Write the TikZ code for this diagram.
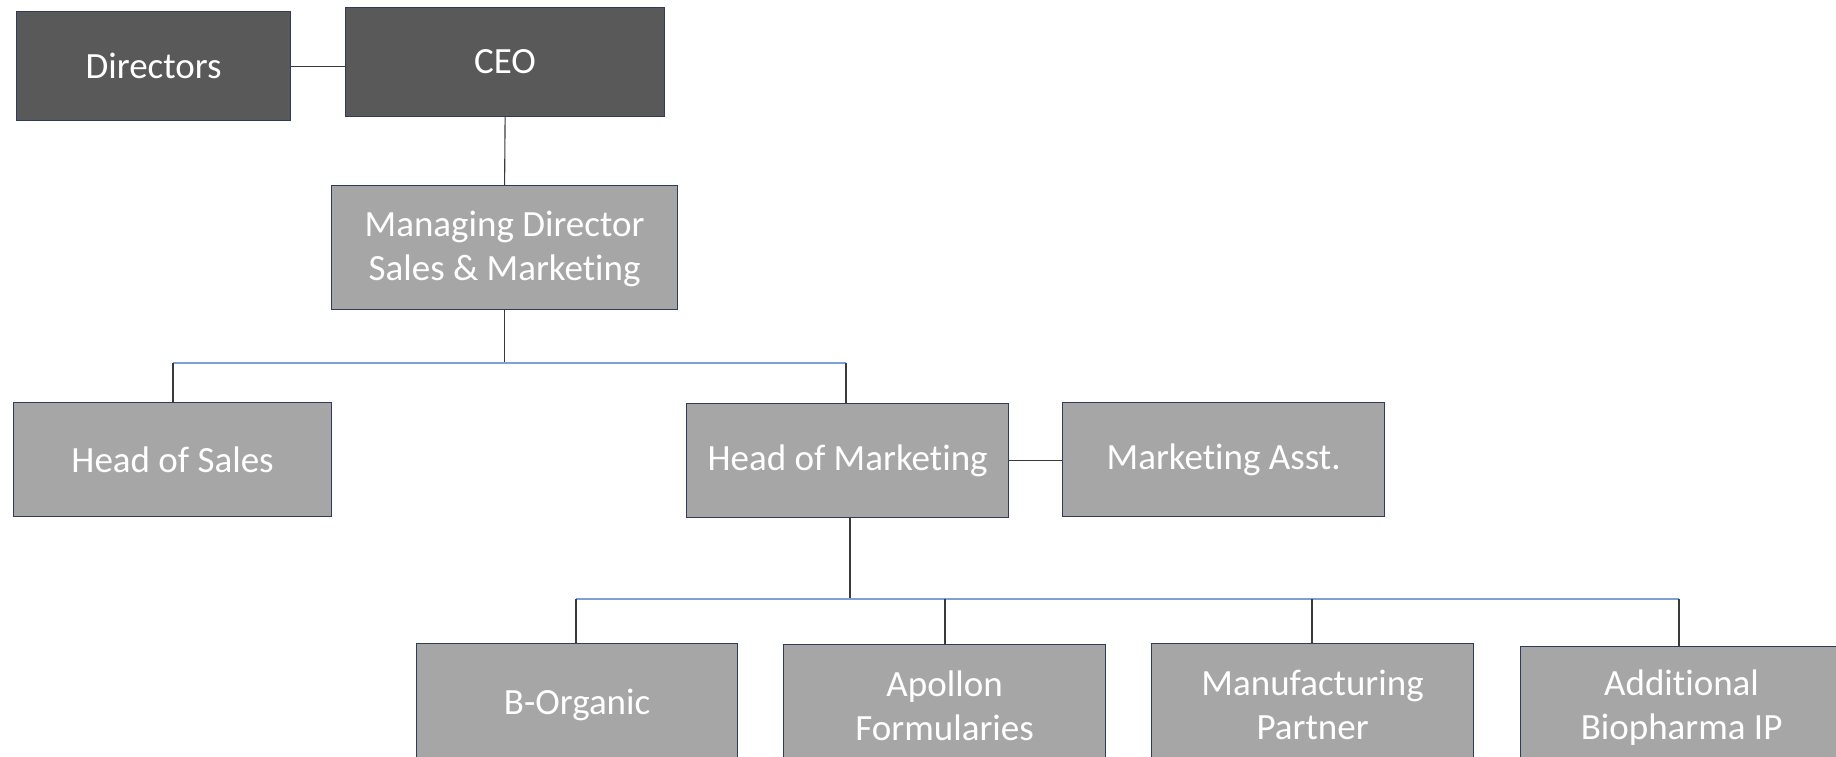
\documentclass[tikz,border=0pt]{standalone}
\usepackage{fontspec}
\setmainfont{Carlito}[Ligatures=NoCommon]
\definecolor{darkbox}{HTML}{595959}
\definecolor{lightbox}{HTML}{A6A6A6}
\definecolor{boxline}{HTML}{2F3B5C}
\definecolor{busline}{HTML}{7F9FD8}
\definecolor{linkline}{HTML}{3A3A3A}
\begin{document}
\begin{tikzpicture}[x=1pt,y=-1pt,
  box/.style={draw=boxline,line width=1.2pt,text=white,align=center,font=\fontsize{37}{44}\selectfont,inner sep=0pt,anchor=north west},
  darkb/.style={box,fill=darkbox},
  lightb/.style={box,fill=lightbox},
  link/.style={draw=linkline,line width=1.1pt},
  bus/.style={draw=busline,line width=1.5pt}]
\useasboundingbox (0,0) rectangle (1836,757);
\node[darkb,minimum width=274pt,minimum height=109pt] (dir) at (16,11) {Directors};
\node[darkb,minimum width=319pt,minimum height=109pt] (ceo) at (345,7) {CEO};
\node[lightb,minimum width=346pt,minimum height=124pt,text depth=4pt] (md) at (331,185) {Managing Director\\Sales \& Marketing};
\node[lightb,minimum width=318pt,minimum height=114pt] (hos) at (13,402) {Head of Sales};
\node[lightb,minimum width=322pt,minimum height=114pt] (hom) at (686,403) {Head of Marketing};
\node[lightb,minimum width=322pt,minimum height=114pt] (ma) at (1062,402) {Marketing Asst.};
\node[lightb,minimum width=321pt,minimum height=122pt] (bo) at (416,643) {B-Organic};
\node[lightb,minimum width=322pt,minimum height=122pt] (ap) at (783,644) {Apollon\\Formularies};
\node[lightb,minimum width=322pt,minimum height=122pt] (mp) at (1151,643) {Manufacturing\\Partner};
\node[lightb,minimum width=322pt,minimum height=122pt] (ab) at (1520,646) {Additional\\Biopharma IP};
\coordinate (b1) at (173,363);
\coordinate (b2) at (846,363);
\coordinate (c1) at (576,599);
\coordinate (c2) at (1679,599);
\coordinate (c3) at (945,599);
\coordinate (c4) at (1312,599);
\coordinate (hd) at (850,599);
\draw[link] (dir.east) -- (ceo.west |- dir.east);
\draw[link] (ceo.south) -- (md.north);
\draw[link] (md.south) -- (md.south |- b1);
\draw[bus] (b1) -- (b2);
\draw[link] (b1) -- (b1 |- hos.north);
\draw[link] (b2) -- (b2 |- hom.north);
\draw[link] (hom.east) -- (ma.west |- hom.east);
\draw[link] (hom.south -| hd) -- (hd);
\draw[bus] (c1) -- (c2);
\draw[link] (c1) -- (c1 |- bo.north);
\draw[link] (c3) -- (c3 |- ap.north);
\draw[link] (c4) -- (c4 |- mp.north);
\draw[link] (c2) -- (c2 |- ab.north);
\end{tikzpicture}
\end{document}
